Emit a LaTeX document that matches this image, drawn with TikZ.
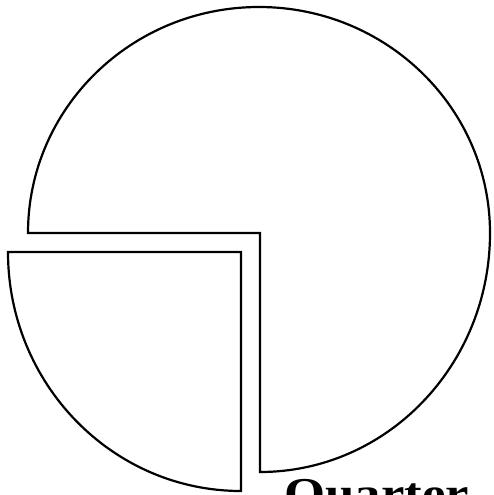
\documentclass[tikz,border=0pt]{standalone}
\usepackage{fontspec}
\newfontfamily\labelfont{Liberation Serif}
\begin{document}
\begin{tikzpicture}[x=1pt,y=-1pt,
  piece/.style={draw=black, line width=2.2pt, line join=miter},
  lbl/.style={inner sep=0pt, font=\labelfont\bfseries\fontsize{44}{44}\selectfont}]
\clip (0,0) rectangle (494,495);
\useasboundingbox (0,0) rectangle (494,495);
\coordinate (big) at (260,233);
\coordinate (bigleft) at (28,233);
\coordinate (small) at (241,252);
\coordinate (smallleft) at (8,252);
% three-quarter piece
\draw[piece] (big) -- (bigleft)
  arc[start angle=180, end angle=360, x radius=231, y radius=226]
  arc[start angle=0, end angle=90, x radius=230, y radius=239] -- cycle;
% quarter piece
\draw[piece] (small) -- (smallleft)
  arc[start angle=180, end angle=90, x radius=233, y radius=239] -- cycle;
\node[lbl, anchor=base west] (q) at (284,508) {\scalebox{1.2}[1]{Quarter}};
\end{tikzpicture}
\end{document}
